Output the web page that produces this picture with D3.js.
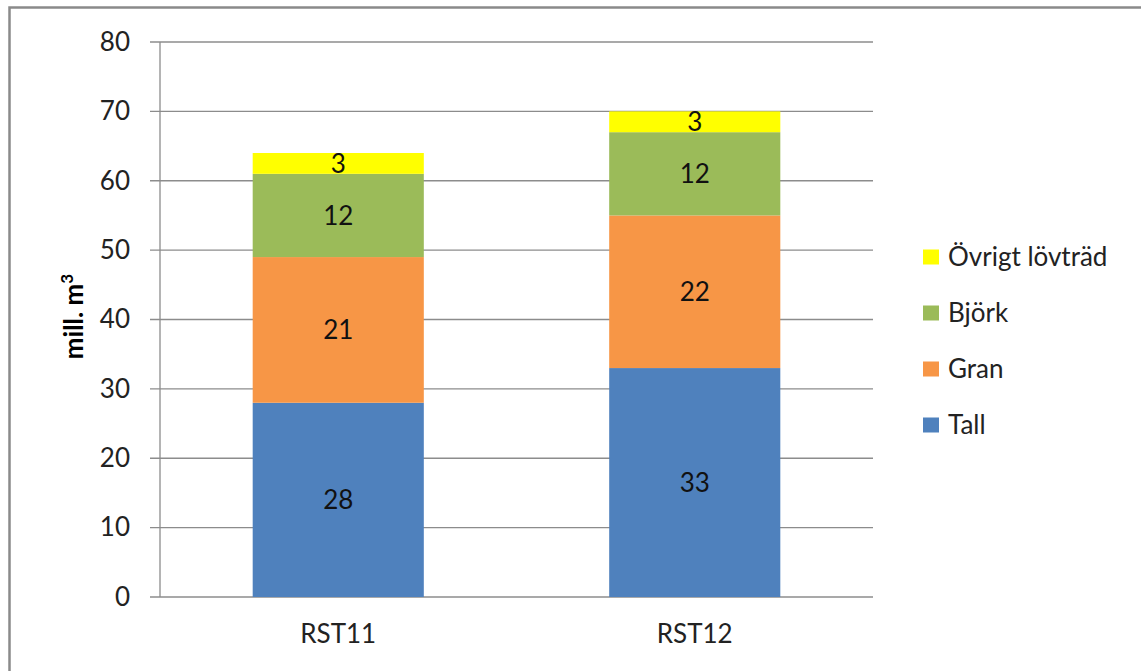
<!DOCTYPE html>
<html>
<head>
<meta charset="utf-8">
<script src="https://cdn.jsdelivr.net/npm/d3@7"></script>
<style>
  body { margin: 0; background: #fff; }
  svg { display: block; font-family: Lato, "Open Sans", sans-serif; }
</style>
</head>
<body>
<div class="chart"></div>
<script>
const categories = ["RST11", "RST12"];
const species = ["Tall", "Gran", "Björk", "Övrigt lövträd"];
const tall = [28, 33];
const gran = [21, 22];
const bjork = [12, 12];
const ovrigt = [3, 3];
const yTicks = [0, 10, 20, 30, 40, 50, 60, 70, 80];
const colors = ["#4F81BD", "#F79646", "#9BBB59", "#FFFF00"];

const width = 1141;
const height = 671;
const margin = { top: 42, right: 268, bottom: 74, left: 160 };
const innerWidth = width - margin.left - margin.right;
const innerHeight = height - margin.top - margin.bottom;

const rows = categories.map((c, i) => ({
  cat: c,
  "Tall": tall[i],
  "Gran": gran[i],
  "Björk": bjork[i],
  "Övrigt lövträd": ovrigt[i]
}));

const stacked = d3.stack().keys(species)(rows);

const svg = d3.select(".chart")
  .append("svg")
  .attr("width", width)
  .attr("height", height);

// outer frame (right and bottom edges fall outside the picture)
svg.append("path")
  .attr("d", `M9.5,${height} V7.5 H${width}`)
  .attr("fill", "none")
  .attr("stroke", "#8a8a8a")
  .attr("stroke-width", 2.5);

const g = svg.append("g")
  .attr("transform", `translate(${margin.left},${margin.top})`);

const x = d3.scaleBand()
  .domain(categories)
  .range([0, innerWidth])
  .paddingInner(0.52)
  .paddingOuter(0.26);

const y = d3.scaleLinear()
  .domain([0, 80])
  .range([innerHeight, 0]);

// gridlines
g.append("g")
  .selectAll("line")
  .data(yTicks)
  .enter()
  .append("line")
  .attr("x1", -10)
  .attr("x2", innerWidth)
  .attr("y1", d => y(d))
  .attr("y2", d => y(d))
  .attr("stroke", "#8c8c8c")
  .attr("stroke-width", 1.3);

// y axis line
g.append("line")
  .attr("x1", 0).attr("x2", 0)
  .attr("y1", 0).attr("y2", innerHeight)
  .attr("stroke", "#8c8c8c")
  .attr("stroke-width", 1.3);

const yAxis = g.append("g")
  .call(d3.axisLeft(y).tickValues(yTicks).tickSize(0).tickPadding(30));
yAxis.select(".domain").remove();
yAxis.selectAll("text")
  .attr("font-size", 26)
  .attr("font-family", "Lato, 'Open Sans', sans-serif")
  .attr("fill", "#222");

const xAxis = g.append("g")
  .attr("transform", `translate(0,${innerHeight})`)
  .call(d3.axisBottom(x).tickSize(0).tickPadding(28));
xAxis.select(".domain").remove();
xAxis.selectAll("text")
  .attr("font-size", 26)
  .attr("font-family", "Lato, 'Open Sans', sans-serif")
  .attr("fill", "#222");

// bars
const layers = g.selectAll(".layer")
  .data(stacked)
  .enter()
  .append("g")
  .attr("class", "layer")
  .attr("fill", (d, i) => colors[i]);

layers.selectAll("rect")
  .data(d => d)
  .enter()
  .append("rect")
  .attr("x", d => x(d.data.cat))
  .attr("width", x.bandwidth())
  .attr("y", d => y(d[1]))
  .attr("height", d => y(d[0]) - y(d[1]));

layers.selectAll("text")
  .data(d => d)
  .enter()
  .append("text")
  .attr("x", d => x(d.data.cat) + x.bandwidth() / 2)
  .attr("y", d => (y(d[0]) + y(d[1])) / 2)
  .attr("dy", "0.36em")
  .attr("text-anchor", "middle")
  .attr("font-size", 26)
  .attr("fill", "#111")
  .text(d => d[1] - d[0]);

// y title
const title = svg.append("text")
  .attr("transform", `translate(83,${margin.top + innerHeight / 2 - 3}) rotate(-90)`)
  .attr("text-anchor", "middle")
  .attr("font-size", 26)
  .attr("font-weight", "bold")
  .attr("fill", "#000");
title.append("tspan").text("mill. m");
title.append("tspan").attr("dy", -10).attr("font-size", 17).text("3");

// legend, top entry is last series
const legend = svg.append("g")
  .attr("transform", "translate(923,257)");

const legendItems = legend.selectAll("g")
  .data(species.slice().reverse())
  .enter()
  .append("g")
  .attr("transform", (d, i) => `translate(0,${i * 56})`);

legendItems.append("rect")
  .attr("x", 0)
  .attr("y", -7.5)
  .attr("width", 16)
  .attr("height", 15)
  .attr("fill", d => colors[species.indexOf(d)]);

legendItems.append("text")
  .attr("x", 25)
  .attr("y", 0)
  .attr("dy", "0.36em")
  .attr("font-size", 26)
  .attr("fill", "#222")
  .text(d => d);
</script>
</body>
</html>
